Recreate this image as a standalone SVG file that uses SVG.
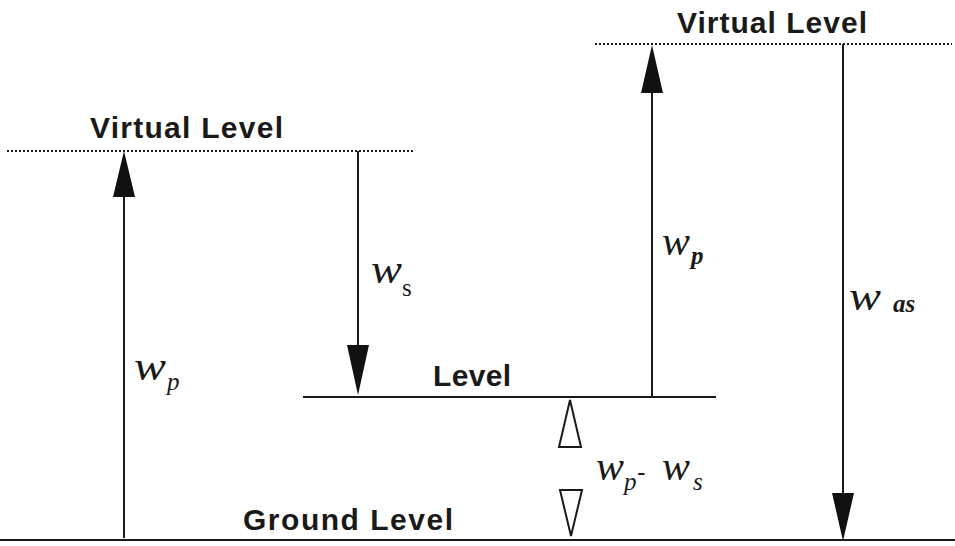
<svg xmlns="http://www.w3.org/2000/svg" width="955" height="546" viewBox="0 0 955 546">
<style>
.lbl{font-family:"Liberation Sans",Arial,sans-serif;font-weight:bold;font-size:30px;fill:#1a1a1a;}
.m{font-family:"Liberation Serif","Times New Roman",serif;font-style:italic;fill:#1a1a1a;}
.solid{stroke:#1a1a1a;stroke-width:2;fill:none;}
.dot{stroke:#1a1a1a;stroke-width:2;stroke-dasharray:2 2;fill:none;}
.head{fill:#111;}
.open{fill:#fff;stroke:#1a1a1a;stroke-width:2;}
</style>
<rect width="955" height="546" fill="#fff"/>
<g id="virtual-level-left">
<line class="dot" x1="7" y1="151" x2="413" y2="151"/>
<text class="lbl" x="90" y="138" textLength="193" lengthAdjust="spacing">Virtual  Level</text>
</g>
<g id="virtual-level-right">
<line class="dot" x1="595" y1="44" x2="952" y2="44"/>
<text class="lbl" x="677" y="33" textLength="190" lengthAdjust="spacing">Virtual  Level</text>
</g>
<g id="level">
<line class="solid" x1="303" y1="397" x2="716" y2="397"/>
<text class="lbl" x="433" y="386" textLength="78" lengthAdjust="spacing">Level</text>
</g>
<g id="ground-level">
<line class="solid" x1="0" y1="540" x2="955" y2="540" stroke-width="2.5"/>
<text class="lbl" x="243" y="530" textLength="210" lengthAdjust="spacing">Ground  Level</text>
</g>
<g id="connectors">
<g id="arrow-wp-left">
<line class="solid" x1="124" y1="538" x2="124" y2="190"/>
<polygon class="head" points="124,151 113,197 135,197"/>
<text class="m" x="134" y="380" font-size="40" textLength="32" lengthAdjust="spacingAndGlyphs">w</text>
<text class="m" x="167" y="390" font-size="25">p</text>
</g>
<g id="arrow-ws">
<line class="solid" x1="358" y1="151" x2="358" y2="350"/>
<polygon class="head" points="358,395 347,345 369,345"/>
<text class="m" x="371" y="283" font-size="40" textLength="31" lengthAdjust="spacingAndGlyphs">w</text>
<text x="402" y="296" font-size="25" font-family="Liberation Serif,serif" fill="#1a1a1a">s</text>
</g>
<g id="arrow-wp-right">
<line class="solid" x1="652" y1="397" x2="652" y2="85"/>
<polygon class="head" points="652,45 641,93 663,93"/>
<text class="m" x="662" y="255" font-size="40" textLength="28" lengthAdjust="spacingAndGlyphs">w</text>
<text class="m" x="691" y="264" font-size="25" font-weight="bold">p</text>
</g>
<g id="arrow-was">
<line class="solid" x1="843" y1="44" x2="843" y2="500"/>
<polygon class="head" points="843,541 832,493 854,493"/>
<text class="m" x="849" y="310" font-size="40" textLength="32" lengthAdjust="spacingAndGlyphs">w</text>
<text class="m" x="893" y="312" font-size="25" font-weight="bold">as</text>
</g>
<g id="delta">
<polygon class="open" points="570,400 559,447 581,447"/>
<polygon class="open" points="571,536 560,490 582,490"/>
<text class="m" x="596" y="480" font-size="40" textLength="28" lengthAdjust="spacingAndGlyphs">w</text>
<text class="m" x="624" y="490" font-size="25">p</text>
<text x="637" y="481" font-size="26" font-family="Liberation Sans,sans-serif" fill="#1a1a1a">-</text>
<text class="m" x="662" y="480" font-size="40" textLength="28" lengthAdjust="spacingAndGlyphs">w</text>
<text class="m" x="693" y="490" font-size="25">s</text>
</g>
</g>
</svg>
